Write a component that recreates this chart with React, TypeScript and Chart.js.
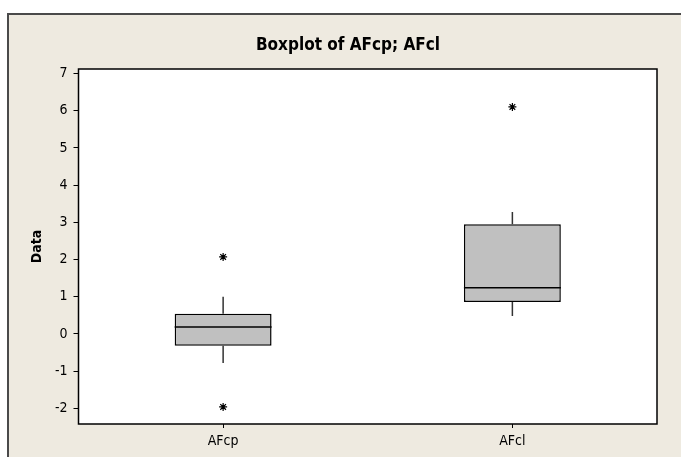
import React, { useEffect, useRef } from "react";
import { Chart, registerables } from "chart.js";

Chart.register(...registerables);

// Groups and their five-number summaries
const categories = ["AFcp", "AFcl"];
const q1Values = [-0.32, 0.86];
const q3Values = [0.54, 2.95];
const medianValues = [0.19, 1.24];
const whiskerLow = [-0.78, 0.48];
const whiskerHigh = [1.0, 3.28];
// Outlying observations per group
const outliersAFcp = [2.07, -1.96];
const outliersAFcl = [6.1];
const yTickMin = -2;
const yTickMax = 7;

const TITLE = "Boxplot of AFcp; AFcl";
const Y_TITLE = "Data";
const FONT = "'DejaVu Sans Condensed', 'DejaVu Sans', sans-serif";

const framePlugin = {
  id: "minitabFrame",
  beforeDraw(chart: any) {
    const { ctx, width, height, chartArea } = chart;
    ctx.save();
    ctx.fillStyle = "#ffffff";
    ctx.fillRect(0, 0, width, height);
    ctx.fillStyle = "#eeeae0";
    ctx.fillRect(7, 13, width - 7, height - 13);
    ctx.strokeStyle = "#4a4a4a";
    ctx.lineWidth = 2;
    ctx.beginPath();
    ctx.moveTo(8, height);
    ctx.lineTo(8, 14);
    ctx.lineTo(width, 14);
    ctx.stroke();
    ctx.fillStyle = "#ffffff";
    ctx.fillRect(chartArea.left, chartArea.top, chartArea.right - chartArea.left, chartArea.bottom - chartArea.top);
    // title
    ctx.fillStyle = "#000000";
    ctx.font = `bold 17px ${FONT}`;
    ctx.textAlign = "center";
    ctx.textBaseline = "middle";
    ctx.fillText(TITLE, 348, 46);
    // y axis title
    ctx.translate(37, (chartArea.top + chartArea.bottom) / 2);
    ctx.rotate(-Math.PI / 2);
    ctx.font = `bold 14px ${FONT}`;
    ctx.fillText(Y_TITLE, 0, 0);
    ctx.restore();
  },
  afterDatasetsDraw(chart: any) {
    const { ctx, chartArea, scales } = chart;
    const x = scales.x;
    const y = scales.y;
    ctx.save();
    categories.forEach((_, i) => {
      const cx = x.getPixelForValue(i);
      const meta = chart.getDatasetMeta(0).data[i];
      const half = meta.width / 2;
      ctx.strokeStyle = "#333333";
      ctx.lineWidth = 1.5;
      ctx.beginPath();
      ctx.moveTo(cx, y.getPixelForValue(q3Values[i]));
      ctx.lineTo(cx, y.getPixelForValue(whiskerHigh[i]));
      ctx.moveTo(cx, y.getPixelForValue(q1Values[i]));
      ctx.lineTo(cx, y.getPixelForValue(whiskerLow[i]));
      ctx.stroke();
      ctx.strokeStyle = "#000000";
      ctx.lineWidth = 1.5;
      const my = y.getPixelForValue(medianValues[i]);
      ctx.beginPath();
      ctx.moveTo(cx - half, my);
      ctx.lineTo(cx + half, my);
      ctx.stroke();
    });
    ctx.strokeStyle = "#000000";
    ctx.lineWidth = 1.5;
    ctx.strokeRect(chartArea.left, chartArea.top, chartArea.right - chartArea.left, chartArea.bottom - chartArea.top);
    ctx.restore();
  },
};

export default function App() {
  const ref = useRef<HTMLCanvasElement | null>(null);
  useEffect(() => {
    if (!ref.current) return;
    const outlierPoints = [
      ...outliersAFcp.map((v) => ({ x: categories[0], y: v })),
      ...outliersAFcl.map((v) => ({ x: categories[1], y: v })),
    ];
    const chart = new Chart(ref.current, {
      type: "bar",
      data: {
        labels: categories,
        datasets: [
          {
            type: "bar",
            data: categories.map((_, i) => [q1Values[i], q3Values[i]]),
            backgroundColor: "#c0c0c0",
            borderColor: "#000000",
            borderWidth: 1.5,
            borderSkipped: false,
            barPercentage: 0.335,
            categoryPercentage: 1,
          } as any,
          {
            type: "scatter",
            data: outlierPoints as any,
            pointStyle: "star",
            radius: 4,
            borderColor: "#000000",
            borderWidth: 1.2,
            backgroundColor: "#000000",
            showLine: false,
          } as any,
        ],
      },
      options: {
        animation: false,
        responsive: false,
        maintainAspectRatio: false,
        layout: { padding: { top: 69, right: 24, bottom: 0, left: 0 } },
        plugins: { legend: { display: false }, tooltip: { enabled: false }, title: { display: false } },
        scales: {
          x: {
            type: "category",
            offset: true,
            grid: { offset: false, drawOnChartArea: false, drawTicks: true, tickLength: 4, color: "#000000" },
            border: { display: false },
            ticks: { color: "#000000", padding: 5, font: { family: FONT, size: 14 } },
            afterFit: (s: any) => {
              s.height = 33;
            },
          },
          y: {
            type: "linear",
            min: -2.42,
            max: 7.12,
            grid: { drawOnChartArea: false, drawTicks: true, tickLength: 5, color: "#000000" },
            border: { display: false },
            ticks: {
              stepSize: 1,
              includeBounds: false,
              color: "#000000",
              padding: 6,
              font: { family: FONT, size: 14 },
              callback: (v: any) => (v >= yTickMin && v <= yTickMax ? String(v) : ""),
            },
            afterFit: (s: any) => {
              s.width = 78.5;
            },
          },
        },
      },
      plugins: [framePlugin],
    });
    return () => chart.destroy();
  }, []);
  return (
    <div style={{ position: "fixed", left: 0, top: 0, width: 681, height: 457 }}>
      <canvas ref={ref} width={681} height={457} style={{ width: 681, height: 457 }} />
    </div>
  );
}
